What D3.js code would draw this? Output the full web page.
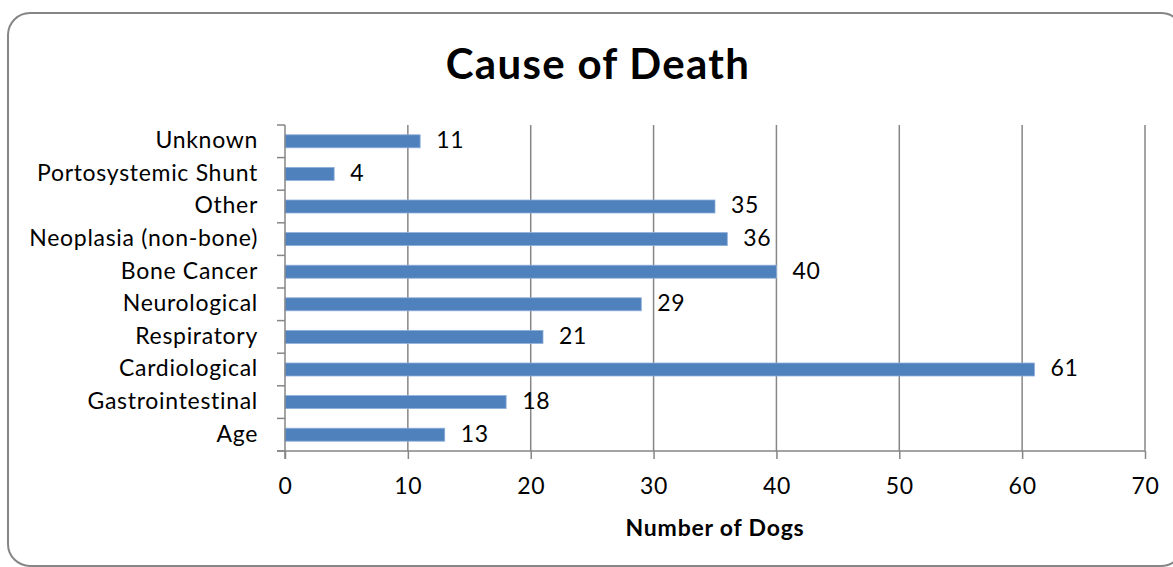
<!DOCTYPE html>
<html><head><meta charset="utf-8">
<script src="https://cdn.jsdelivr.net/npm/d3@7"></script>
<style>body{margin:0;background:#fff;}svg{display:block;}</style>
</head><body>
<svg id="c" width="1173" height="567"></svg>
<script>
const categories = ["Unknown","Portosystemic Shunt","Other","Neoplasia (non-bone)","Bone Cancer","Neurological","Respiratory","Cardiological","Gastrointestinal","Age"];
const values = [11,4,35,36,40,29,21,61,18,13];
const xTicks = [0,10,20,30,40,50,60,70];
const title = "Cause of Death";
const xTitle = "Number of Dogs";

const svg = d3.select("#c");
const font = "Lato, 'Open Sans', sans-serif";
const fs = 23, ls = 0.7;
const m = {left:285, right:1145, top:125, bottom:451};

svg.append("rect").attr("x",8).attr("y",13).attr("width",1175).attr("height",553)
  .attr("rx",22).attr("fill","#fff").attr("stroke","#868686").attr("stroke-width",2);

const x = d3.scaleLinear().domain([0,70]).range([m.left,m.right]);
const yb = d3.scaleBand().domain(categories).range([m.top,m.bottom]);

// gridlines
svg.append("g").selectAll("line").data(xTicks.slice(1)).join("line")
  .attr("x1",d=>x(d)).attr("x2",d=>x(d)).attr("y1",m.top).attr("y2",m.bottom)
  .attr("stroke","#868686").attr("stroke-width",1.5);

// bars
svg.append("g").selectAll("rect").data(categories).join("rect")
  .attr("x",x(0)).attr("y",d=>yb(d)+yb.bandwidth()/2-6.5)
  .attr("width",(d,i)=>x(values[i])-x(0)).attr("height",13)
  .attr("fill","#4F81BD").attr("stroke","#8EAEDA").attr("stroke-width",0.8);

// value labels
svg.append("g").selectAll("text").data(categories).join("text")
  .attr("x",(d,i)=>x(values[i])+16).attr("y",d=>yb(d)+yb.bandwidth()/2+1)
  .attr("dominant-baseline","middle").attr("font-family",font).attr("font-size",fs)
  .attr("letter-spacing",ls).attr("fill","#000").text((d,i)=>values[i]);

// x axis
const xa = svg.append("g").attr("transform",`translate(0,${m.bottom})`)
  .call(d3.axisBottom(x).tickValues(xTicks).tickSize(8).tickPadding(19).tickFormat(d3.format("d")));
xa.select(".domain").attr("stroke","#868686").attr("stroke-width",1.5).attr("d",`M${m.left-8},0H${m.right}`);
xa.selectAll(".tick line").attr("stroke","#868686").attr("stroke-width",1.5);
xa.selectAll("text").attr("font-family",font).attr("font-size",fs).attr("letter-spacing",ls).attr("fill","#000");

// y axis
const ya = svg.append("g").attr("transform",`translate(${m.left},0)`);
ya.append("line").attr("x1",0).attr("x2",0).attr("y1",m.top).attr("y2",m.bottom+8)
  .attr("stroke","#868686").attr("stroke-width",1.5);
const bounds = categories.map(c=>yb(c)).concat([m.bottom]);
ya.selectAll("line.t").data(bounds).join("line").attr("class","t")
  .attr("x1",-8).attr("x2",0).attr("y1",d=>d).attr("y2",d=>d)
  .attr("stroke","#868686").attr("stroke-width",1.5);
ya.selectAll("text").data(categories).join("text")
  .attr("x",-27).attr("y",d=>yb(d)+yb.bandwidth()/2+1)
  .attr("text-anchor","end").attr("dominant-baseline","middle")
  .attr("font-family",font).attr("font-size",fs).attr("letter-spacing",ls).attr("fill","#000").text(d=>d);

// titles
svg.append("text").attr("x",598).attr("y",79).attr("text-anchor","middle")
  .attr("font-family",font).attr("font-weight","bold").attr("font-size",42)
  .attr("letter-spacing",1.3).text(title);
svg.append("text").attr("x",(m.left+m.right)/2).attr("y",536).attr("text-anchor","middle")
  .attr("font-family",font).attr("font-weight","bold").attr("font-size",fs)
  .attr("letter-spacing",0.8).text(xTitle);
</script>
</body></html>
